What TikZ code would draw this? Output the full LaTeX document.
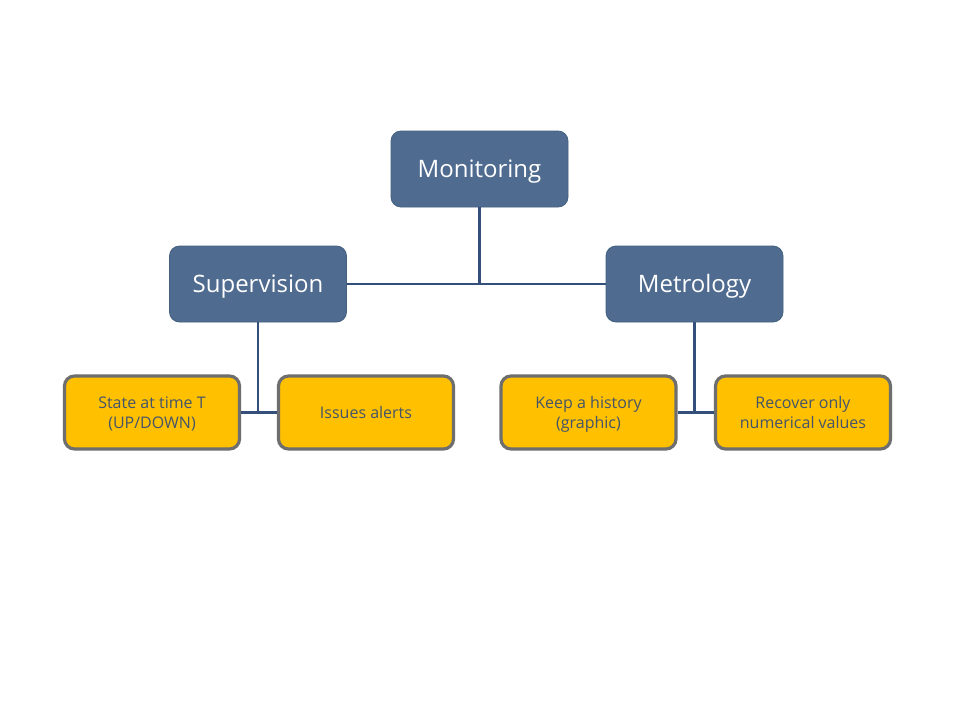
\documentclass[tikz,border=0pt]{standalone}
\usepackage{fontspec}
\setmainfont{Open Sans}
\definecolor{bluefill}{HTML}{4F6B8F}
\definecolor{blueborder}{HTML}{44607F}
\definecolor{linec}{HTML}{34507A}
\definecolor{yellowfill}{HTML}{FFC000}
\definecolor{grayborder}{HTML}{6E6E6E}
\definecolor{ytext}{HTML}{44546A}
\begin{document}
\begin{tikzpicture}[x=1pt,y=-1pt,
  topbox/.style={draw=blueborder,line width=0.8pt,fill=bluefill,rounded corners=10pt,
    minimum width=177pt,minimum height=76pt,inner sep=0pt,text=white,
    text height=18pt,text depth=2pt,
    font=\fontsize{24}{28}\selectfont},
  leafbox/.style={draw=grayborder,line width=3.2pt,fill=yellowfill,rounded corners=10pt,
    minimum width=175pt,minimum height=73pt,inner sep=0pt,text=ytext,align=center,text depth=0pt,
    font=\fontsize{16}{19.5}\selectfont},
  conn/.style={draw=linec,line width=2.6pt}]
\useasboundingbox (0,0) rectangle (960,720);
\fill[white] (0,0) rectangle (960,720);
\node[topbox] (mon) at (479.5,169) {Monitoring};
\node[topbox] (sup) at (258,284) {Supervision};
\node[topbox] (met) at (694.5,284) {Metrology};
\node[leafbox] (state) at (152,412.5) {State at time T\\(UP/DOWN)};
\node[leafbox] (iss) at (366,412.5) {Issues alerts};
\node[leafbox] (keep) at (588.5,412.5) {Keep a history\\(graphic)};
\node[leafbox] (rec) at (803,412.5) {Recover only\\numerical values};
\coordinate (j1) at (mon.south |- sup.east);
\coordinate (j2) at (sup.south |- state.east);
\coordinate (j3) at (met.south |- keep.east);
\draw[conn] (mon.south) -- (j1);
\draw[conn] (sup.east) -- (met.west);
\draw[conn] (sup.south) -- (j2);
\draw[conn] (state.east) -- (iss.west);
\draw[conn] (met.south) -- (j3);
\draw[conn] (keep.east) -- (rec.west);
\end{tikzpicture}
\end{document}
